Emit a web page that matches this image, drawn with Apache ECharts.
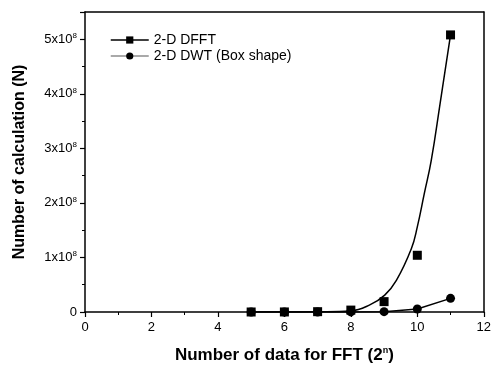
<!DOCTYPE html>
<html>
<head>
<meta charset="utf-8">
<script src="https://cdn.jsdelivr.net/npm/echarts@6/dist/echarts.min.js"></script>
<style>
html,body{margin:0;padding:0;background:#fff;}
#chart{width:494px;height:371px;}
</style>
</head>
<body>
<div id="chart"></div>
<script>
// Data (values in units of 1e8 calculations)
var nValues = [5, 6, 7, 8, 9, 10, 11];
var dfftValues = [0.0002, 0.001, 0.006, 0.035, 0.19, 1.04, 5.08];
var dwtValues = [0.0001, 0.0005, 0.001, 0.002, 0.006, 0.055, 0.25];
// Fitted curve for 2-D DFFT
var fitX = [5, 6, 7, 8, 8.57, 9.02, 9.37, 9.82, 10.0, 10.21, 10.42, 10.69, 11];
var fitY = [0, 0, 0.004, 0.02, 0.13, 0.31, 0.58, 1.16, 1.56, 2.17, 2.78, 3.84, 5.08];
var xTicks = [0, 2, 4, 6, 8, 10, 12];
var yTicks = [0, 1, 2, 3, 4, 5];
var SCALE = 1e8;

function pairs(xs, ys) {
  return xs.map(function (x, i) { return [x, ys[i] * SCALE]; });
}

var chart = echarts.init(document.getElementById('chart'));
var font = 'Liberation Sans, Arial, sans-serif';

chart.setOption({
  animation: false,
  backgroundColor: '#fff',
  grid: { left: 85, right: 10, top: 12, bottom: 59 },
  legend: {
    orient: 'vertical',
    left: 110,
    top: 32,
    padding: 0,
    itemWidth: 38,
    itemHeight: 9,
    itemGap: 0,
    textStyle: { fontFamily: font, fontSize: 14, color: '#000', lineHeight: 16 },
    data: [
      { name: '2-D DFFT', lineStyle: { opacity: 1, width: 1.5, color: '#000' } },
      { name: '2-D DWT (Box shape)', lineStyle: { opacity: 1, width: 1.2, color: '#555' } }
    ]
  },
  xAxis: [{
    type: 'value',
    min: 0, max: 12, interval: 2,
    name: '{t|Number of data for FFT (2}{s|n}{t|)}',
    nameLocation: 'middle',
    nameGap: 34,
    nameTextStyle: {
      rich: {
        t: { fontFamily: font, fontSize: 17, fontWeight: 'bold', color: '#000' },
        s: { fontFamily: font, fontSize: 9, fontWeight: 'bold', color: '#000', verticalAlign: 'top', padding: [0, 0, 9, 0] }
      }
    },
    axisLine: { onZero: false, lineStyle: { color: '#000', width: 1.5 } },
    axisTick: { inside: false, length: 5, lineStyle: { color: '#000', width: 1.2 } },
    minorTick: { show: true, splitNumber: 2, length: 3, lineStyle: { color: '#000' } },
    axisLabel: { fontFamily: font, fontSize: 13, color: '#000', margin: 9,
      formatter: function (v) { return xTicks.indexOf(v) >= 0 ? String(v) : ''; } },
    splitLine: { show: false }
  }, {
    type: 'value', position: 'top', min: 0, max: 12, interval: 2,
    axisLine: { show: true, onZero: false, lineStyle: { color: '#000', width: 1.5 } },
    axisTick: { show: false }, axisLabel: { show: false }, splitLine: { show: false }
  }],
  yAxis: [{
    type: 'value',
    min: 0, max: 5.5 * SCALE, interval: SCALE,
    name: 'Number of calculation (N)',
    nameLocation: 'middle',
    nameGap: 57,
    nameTextStyle: { fontFamily: font, fontSize: 16, fontWeight: 'bold', color: '#000' },
    axisLine: { show: true, onZero: false, lineStyle: { color: '#000', width: 1.5 } },
    axisTick: { inside: false, length: 5, lineStyle: { color: '#000', width: 1.2 } },
    minorTick: { show: true, splitNumber: 2, length: 3, lineStyle: { color: '#000' } },
    axisLabel: {
      margin: 8,
      formatter: function (v) {
        var k = Math.round(v / SCALE * 100) / 100;
        if (yTicks.indexOf(k) < 0) return '';
        if (k === 0) return '{a|0}';
        return '{a|' + k + 'x10}{s|8}';
      },
      rich: {
        a: { fontFamily: font, fontSize: 13, color: '#000' },
        s: { fontFamily: font, fontSize: 8, color: '#000', verticalAlign: 'top', padding: [0, 0, 7, 0] }
      }
    },
    splitLine: { show: false }
  }, {
    type: 'value', position: 'right', min: 0, max: 5.5 * SCALE, interval: SCALE,
    axisLine: { show: true, onZero: false, lineStyle: { color: '#000', width: 1.5 } },
    axisTick: { show: false }, axisLabel: { show: false }, splitLine: { show: false }
  }],
  series: [{
    name: '2-D DFFT fit',
    type: 'line',
    data: pairs(fitX, fitY),
    smooth: 0.45,
    showSymbol: false,
    lineStyle: { color: '#000', width: 1.5 },
    z: 2,
    silent: true
  }, {
    name: '2-D DFFT',
    type: 'line',
    data: pairs(nValues, dfftValues),
    symbol: 'rect',
    symbolSize: 9,
    itemStyle: { color: '#000' },
    lineStyle: { opacity: 0, width: 0 },
    z: 3
  }, {
    name: '2-D DWT (Box shape)',
    type: 'line',
    data: pairs(nValues, dwtValues),
    symbol: 'circle',
    symbolSize: 9,
    itemStyle: { color: '#000' },
    lineStyle: { color: '#000', width: 1.5 },
    z: 4
  }]
});
</script>
</body>
</html>
